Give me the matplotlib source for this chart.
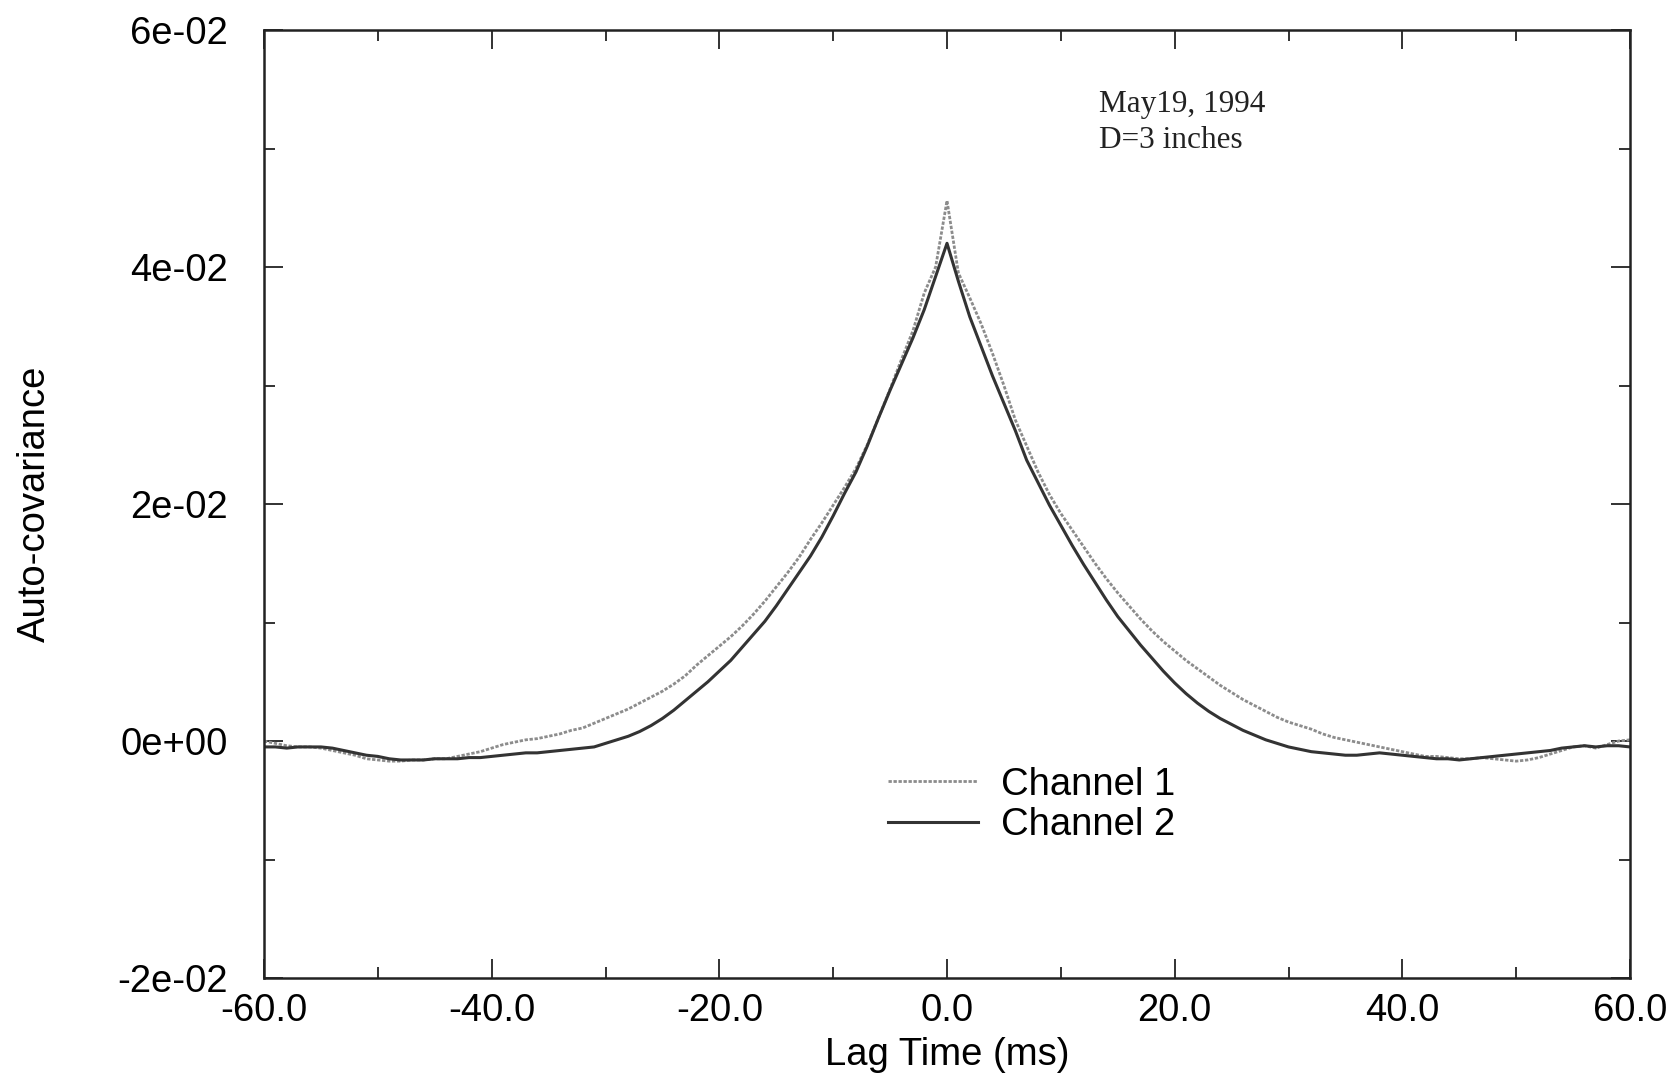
import numpy as np
import matplotlib
matplotlib.use("Agg")
import matplotlib.pyplot as plt
from matplotlib.ticker import FixedLocator, MultipleLocator

# Lag axis (ms)
lag_ms = list(range(-60, 61))

# Auto-covariance, channel 1 (lag -60 ... 60 ms)
channel1 = [
    0.0000, -0.0002, -0.0004, -0.0005, -0.0005, -0.0006, -0.0008, -0.0010, -0.0012, -0.0015,
    -0.0016, -0.0017, -0.0017, -0.0016, -0.0016, -0.0015, -0.0015, -0.0013, -0.0011, -0.0009,
    -0.0006, -0.0003, -0.0001, 0.0001, 0.0002, 0.0004, 0.0006, 0.0009, 0.0011, 0.0015,
    0.0019, 0.0023, 0.0027, 0.0032, 0.0037, 0.0042, 0.0048, 0.0055, 0.0064, 0.0072,
    0.0080, 0.0088, 0.0097, 0.0107, 0.0118, 0.0130, 0.0142, 0.0155, 0.0170, 0.0184,
    0.0199, 0.0214, 0.0230, 0.0250, 0.0273, 0.0297, 0.0322, 0.0346, 0.0378, 0.0400,
    0.0456,
    0.0395, 0.0374, 0.0352, 0.0327, 0.0300, 0.0271, 0.0249, 0.0227, 0.0208, 0.0192,
    0.0178, 0.0164, 0.0150, 0.0137, 0.0125, 0.0114, 0.0103, 0.0093, 0.0084, 0.0076,
    0.0068, 0.0061, 0.0054, 0.0047, 0.0041, 0.0035, 0.0030, 0.0025, 0.0020, 0.0016,
    0.0013, 0.0010, 0.0006, 0.0003, 0.0001, -0.0001, -0.0003, -0.0005, -0.0007, -0.0009,
    -0.0011, -0.0013, -0.0013, -0.0014, -0.0015, -0.0015, -0.0014, -0.0015, -0.0016, -0.0017,
    -0.0016, -0.0014, -0.0011, -0.0008, -0.0005, -0.0004, -0.0006, -0.0003, 0.0000, 0.0001,
]

# Auto-covariance, channel 2 (lag -60 ... 60 ms)
channel2 = [
    -0.0005, -0.0005, -0.0006, -0.0005, -0.0005, -0.0005, -0.0006, -0.0008, -0.0010, -0.0012,
    -0.0013, -0.0015, -0.0016, -0.0016, -0.0016, -0.0015, -0.0015, -0.0015, -0.0014, -0.0014,
    -0.0013, -0.0012, -0.0011, -0.0010, -0.0010, -0.0009, -0.0008, -0.0007, -0.0006, -0.0005,
    -0.0002, 0.0001, 0.0004, 0.0008, 0.0013, 0.0019, 0.0026, 0.0034, 0.0042, 0.0050,
    0.0059, 0.0068, 0.0079, 0.0090, 0.0101, 0.0114, 0.0128, 0.0142, 0.0156, 0.0172,
    0.0190, 0.0209, 0.0227, 0.0249, 0.0273, 0.0296, 0.0318, 0.0340, 0.0364, 0.0392,
    0.0420,
    0.0388, 0.0358, 0.0333, 0.0308, 0.0285, 0.0262, 0.0237, 0.0218, 0.0199, 0.0182,
    0.0165, 0.0149, 0.0134, 0.0119, 0.0105, 0.0093, 0.0081, 0.0070, 0.0059, 0.0049,
    0.0040, 0.0032, 0.0025, 0.0019, 0.0014, 0.0009, 0.0005, 0.0001, -0.0002, -0.0005,
    -0.0007, -0.0009, -0.0010, -0.0011, -0.0012, -0.0012, -0.0011, -0.0010, -0.0011, -0.0012,
    -0.0013, -0.0014, -0.0015, -0.0015, -0.0016, -0.0015, -0.0014, -0.0013, -0.0012, -0.0011,
    -0.0010, -0.0009, -0.0008, -0.0006, -0.0005, -0.0004, -0.0005, -0.0004, -0.0004, -0.0005,
]

series_labels = ["Channel 1", "Channel 2"]
x_ticks = [-60, -40, -20, 0, 20, 40, 60]
y_ticks = [-0.02, 0.0, 0.02, 0.04, 0.06]
note_lines = ["May19, 1994", "D=3 inches"]

plt.rcParams["font.family"] = ["Liberation Sans", "DejaVu Sans"]

W, H = 1677, 1077
fig = plt.figure(figsize=(W / 100, H / 100), dpi=100)
left, right, top, bottom = 264, 1630, 30, 978
ax = fig.add_axes([left / W, (H - bottom) / H, (right - left) / W, (bottom - top) / H])

ax.plot(lag_ms, channel1, color="#8c8c8c", lw=2.0, ls=(0, (1.2, 0.6)),
        label=series_labels[0])
ax.plot(lag_ms, channel2, color="#333333", lw=2.2, label=series_labels[1])

ax.set_xlim(-60, 60)
ax.set_ylim(-0.02, 0.06)
ax.xaxis.set_major_locator(FixedLocator(x_ticks))
ax.xaxis.set_minor_locator(MultipleLocator(10))
ax.yaxis.set_major_locator(FixedLocator(y_ticks))
ax.yaxis.set_minor_locator(MultipleLocator(0.01))
ax.set_xticklabels([f"{v:.1f}" for v in x_ticks])
ax.set_yticklabels([f"{v:.0e}" for v in y_ticks])

ax.tick_params(which="both", direction="in", top=True, right=True,
               color="#222222", width=1.3)
ax.tick_params(which="major", length=14, labelsize=27.5)
ax.tick_params(axis="x", which="major", pad=11)
ax.tick_params(axis="y", which="major", pad=26)
ax.tick_params(which="minor", length=8)
for s in ax.spines.values():
    s.set_linewidth(1.8)
    s.set_color("#222222")

ax.set_xlabel("Lag Time (ms)", fontsize=27.5)
ax.xaxis.set_label_coords(0.5, -0.062)
ax.set_ylabel("Auto-covariance", fontsize=27.5)
ax.yaxis.set_label_coords(-(left - 53) / (right - left), 0.5)

ax.text((1099 - left) / (right - left), (bottom - 90) / (bottom - top),
        "\n".join(note_lines), transform=ax.transAxes, ha="left", va="top",
        fontsize=22.5, family=["Liberation Serif", "DejaVu Serif"],
        linespacing=1.3, color="#222222")

ax.legend(loc="center left", frameon=False, fontsize=27.5,
          bbox_to_anchor=((888 - left) / (right - left), (bottom - 805) / (bottom - top)),
          borderpad=0, borderaxespad=0, handlelength=2.35, handletextpad=0.6,
          labelspacing=0.12)

fig.savefig("out.png", dpi=100)
